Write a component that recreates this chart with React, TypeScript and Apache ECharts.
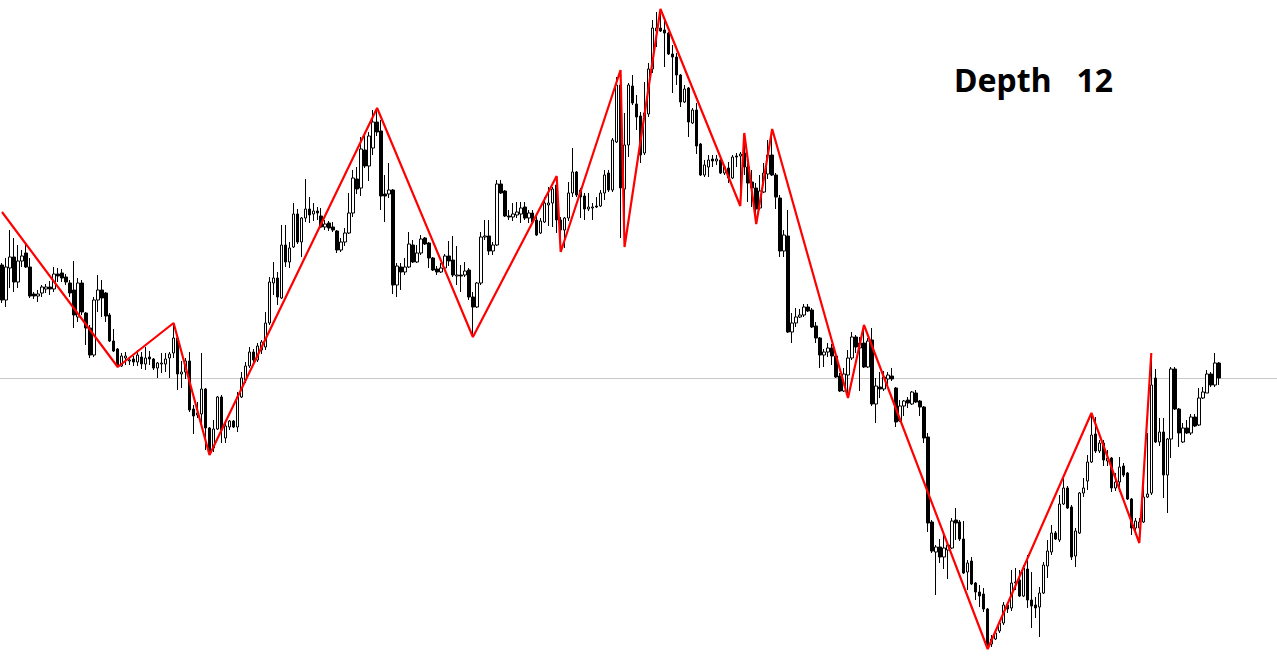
import { useEffect, useRef } from "react";
import * as echarts from "echarts";

// Each candle: [open, high, low, close]
const candles: number[][] = [
  [735, 737, 697, 700], [700, 742, 693, 733], [732, 770, 712, 743], [743, 762, 708, 718], [718, 755, 712, 739],
  [739, 750, 733, 744], [747, 757, 732, 733], [733, 742, 702, 704], [706, 708, 701, 704], [704, 710, 698, 706],
  [707, 715, 703, 713], [711, 716, 707, 713], [713, 719, 705, 711], [711, 733, 708, 726], [726, 732, 718, 724],
  [727, 731, 718, 722], [723, 726, 715, 718], [717, 720, 703, 707], [710, 739, 672, 685], [683, 722, 678, 717],
  [717, 720, 685, 688], [687, 688, 655, 672], [672, 675, 642, 645], [645, 703, 643, 700], [700, 725, 688, 710],
  [710, 720, 683, 702], [707, 708, 678, 684], [685, 687, 658, 659], [659, 671, 648, 649], [651, 652, 633, 634],
  [634, 647, 633, 644], [642, 648, 635, 644], [639, 643, 635, 640], [641, 644, 634, 638], [638, 650, 634, 645],
  [643, 648, 631, 636], [636, 653, 630, 642], [643, 649, 635, 641], [641, 642, 630, 632], [632, 638, 622, 637],
  [636, 647, 627, 637], [636, 647, 628, 641], [642, 648, 622, 646], [647, 677, 642, 662], [662, 665, 610, 626],
  [626, 639, 612, 628], [628, 642, 621, 639], [639, 648, 588, 590], [591, 595, 566, 584], [585, 598, 582, 587],
  [586, 647, 572, 611], [611, 612, 550, 572], [572, 573, 545, 548], [552, 580, 548, 571], [571, 604, 570, 603],
  [603, 605, 557, 570], [562, 578, 557, 574], [573, 580, 570, 579], [579, 580, 572, 573], [573, 608, 568, 603],
  [603, 628, 602, 622], [620, 638, 617, 634], [634, 653, 632, 648], [648, 651, 636, 640], [640, 657, 638, 654],
  [650, 660, 646, 658], [653, 688, 650, 677], [677, 723, 675, 718], [717, 738, 705, 722], [722, 728, 695, 703],
  [702, 775, 701, 755], [755, 775, 733, 738], [738, 758, 732, 752], [753, 797, 752, 786], [786, 791, 756, 758],
  [758, 783, 743, 782], [782, 821, 778, 791], [791, 803, 777, 785], [786, 797, 779, 789], [789, 793, 780, 787],
  [784, 792, 772, 773], [773, 780, 770, 776], [777, 779, 769, 772], [773, 778, 768, 770], [769, 770, 747, 750],
  [750, 762, 748, 758], [758, 772, 754, 767], [767, 807, 766, 787], [787, 830, 783, 822], [821, 833, 806, 811],
  [812, 863, 804, 851], [850, 868, 832, 834], [834, 868, 819, 864], [852, 890, 845, 878], [878, 892, 864, 868],
  [869, 880, 790, 804], [806, 825, 778, 804], [806, 837, 802, 810], [810, 811, 706, 715], [715, 737, 703, 734],
  [733, 737, 710, 728], [728, 742, 725, 733], [733, 768, 732, 756], [755, 760, 737, 738], [738, 755, 737, 747],
  [747, 765, 745, 761], [762, 763, 755, 756], [757, 758, 732, 742], [742, 743, 729, 730], [731, 734, 725, 728],
  [728, 737, 727, 732], [732, 746, 730, 744], [744, 759, 734, 739], [740, 764, 723, 725], [724, 754, 715, 725],
  [725, 735, 708, 724], [725, 738, 723, 729], [730, 732, 700, 703], [703, 708, 663, 693], [693, 718, 692, 717],
  [717, 768, 715, 763], [763, 780, 760, 764], [764, 780, 745, 749], [749, 758, 745, 755], [755, 820, 754, 816],
  [816, 820, 806, 807], [809, 810, 783, 784], [784, 790, 780, 783], [783, 797, 779, 786], [785, 798, 782, 788],
  [786, 798, 777, 792], [793, 798, 780, 782], [782, 790, 777, 787], [787, 790, 777, 778], [780, 785, 764, 765],
  [767, 782, 766, 779], [778, 803, 777, 797], [795, 813, 774, 797], [797, 813, 773, 811], [815, 824, 767, 780],
  [780, 783, 748, 770], [770, 783, 752, 782], [782, 818, 779, 807], [807, 852, 803, 828], [828, 829, 803, 805],
  [810, 812, 782, 803], [804, 807, 780, 791], [791, 807, 789, 793], [792, 797, 780, 793], [794, 803, 792, 793],
  [794, 810, 793, 807], [807, 830, 800, 825], [827, 830, 808, 810], [810, 862, 808, 860], [858, 923, 857, 915],
  [915, 930, 762, 812], [811, 887, 753, 855], [855, 917, 843, 915], [914, 925, 895, 897], [896, 905, 870, 883],
  [884, 888, 837, 845], [847, 918, 845, 887], [886, 937, 883, 931], [931, 980, 927, 972], [969, 988, 953, 972],
  [972, 991, 968, 969], [970, 980, 933, 967], [967, 968, 945, 946], [946, 955, 907, 943], [943, 947, 915, 925],
  [925, 926, 893, 898], [898, 915, 897, 911], [912, 913, 863, 878], [877, 892, 876, 890], [890, 897, 846, 854],
  [856, 857, 824, 825], [825, 840, 823, 835], [833, 845, 823, 840], [841, 845, 833, 839], [839, 845, 835, 841],
  [840, 844, 826, 827], [827, 835, 825, 833], [832, 838, 817, 822], [822, 845, 821, 843], [844, 847, 833, 843],
  [844, 848, 794, 846], [847, 867, 825, 833], [833, 837, 798, 817], [818, 830, 793, 812], [812, 817, 776, 791],
  [792, 825, 790, 809], [808, 837, 807, 827], [826, 860, 821, 845], [845, 871, 824, 825], [825, 827, 791, 803],
  [802, 805, 743, 749], [749, 770, 743, 765], [764, 790, 667, 668], [668, 687, 657, 677], [677, 692, 673, 683],
  [683, 691, 682, 685], [685, 696, 683, 693], [693, 696, 688, 689], [690, 692, 672, 673], [674, 678, 657, 662],
  [662, 663, 632, 645], [645, 651, 633, 648], [648, 657, 643, 652], [652, 656, 635, 644], [644, 645, 622, 623],
  [624, 627, 608, 609], [609, 632, 608, 626], [625, 650, 602, 642], [642, 668, 640, 663], [663, 665, 647, 653],
  [652, 663, 609, 657], [657, 675, 632, 633], [633, 662, 632, 659], [660, 672, 594, 596], [596, 622, 577, 614],
  [613, 628, 602, 611], [611, 629, 609, 623], [621, 628, 615, 625], [624, 632, 619, 621], [612, 613, 573, 578],
  [579, 600, 578, 594], [594, 600, 584, 599], [600, 603, 592, 597], [596, 609, 595, 608], [607, 610, 597, 598],
  [599, 600, 584, 593], [593, 594, 557, 562], [563, 567, 468, 477], [478, 480, 447, 449], [448, 455, 405, 453],
  [453, 461, 437, 443], [443, 469, 431, 452], [450, 457, 421, 455], [452, 482, 451, 479], [480, 492, 460, 477],
  [478, 480, 459, 461], [461, 479, 426, 427], [428, 440, 410, 437], [439, 443, 415, 416], [417, 418, 400, 408],
  [408, 415, 393, 404], [406, 412, 388, 391], [391, 392, 351, 353], [356, 365, 353, 361], [361, 371, 360, 367],
  [369, 380, 367, 377], [377, 398, 375, 395], [395, 398, 387, 391], [392, 430, 389, 417], [417, 432, 410, 418],
  [420, 430, 403, 404], [404, 435, 403, 432], [431, 445, 392, 400], [400, 428, 372, 394], [395, 403, 382, 392],
  [393, 413, 363, 407], [407, 438, 406, 435], [434, 460, 422, 449], [448, 475, 445, 467], [467, 469, 460, 461],
  [460, 505, 458, 496], [496, 525, 495, 512], [512, 514, 491, 492], [493, 495, 440, 443], [444, 472, 433, 469],
  [467, 508, 466, 507], [507, 522, 503, 512], [519, 545, 510, 538], [538, 587, 537, 565], [566, 583, 547, 549],
  [549, 560, 547, 557], [557, 560, 534, 540], [539, 550, 534, 542], [542, 543, 508, 512], [512, 527, 509, 518],
  [518, 543, 508, 533], [534, 537, 523, 525], [527, 528, 500, 501], [501, 502, 465, 472], [472, 482, 466, 479],
  [472, 482, 457, 478], [478, 515, 477, 503], [503, 567, 502, 506], [507, 647, 505, 615], [622, 631, 557, 558],
  [558, 582, 554, 568], [568, 582, 502, 525], [525, 562, 487, 561], [561, 633, 542, 631], [631, 633, 590, 591],
  [591, 592, 553, 567], [558, 577, 557, 572], [572, 580, 566, 567], [567, 586, 565, 583], [583, 586, 573, 574],
  [575, 612, 574, 602], [602, 613, 601, 608], [607, 630, 607, 626], [626, 628, 613, 615], [615, 647, 613, 637],
  [637, 638, 615, 622],
];

// ZigZag (depth 12) turning points: bar index and price
const zigzagIndex = [0, 29, 43, 52, 94, 118, 139, 140, 155, 156, 165, 185, 186, 189, 193, 212, 216, 247, 273, 285, 288];
const zigzagValue = [788, 633, 677, 545, 892, 663, 824, 748, 930, 753, 991, 794, 867, 776, 871, 602, 675, 351, 587, 457, 647];

const levelValue = 622;
const depthLabel = "Depth   12";
const emptyBarsRight = 14;
const priceMin = 336;
const priceMax = 1000;

export default function App() {
  const ref = useRef<HTMLDivElement>(null);

  useEffect(() => {
    if (!ref.current) return;
    const chart = echarts.init(ref.current, null, { renderer: "svg" });
    const total = candles.length + emptyBarsRight;
    const categories = Array.from({ length: total }, (_, i) => String(i + 1));
    const zig: (number | null)[] = Array.from({ length: total }, () => null);
    zigzagIndex.forEach((idx, k) => {
      zig[idx] = zigzagValue[k];
    });

    chart.setOption({
      animation: false,
      backgroundColor: "#ffffff",
      grid: { left: -0.5, right: -2.5, top: 0, bottom: 0 },
      xAxis: {
        type: "category",
        data: categories,
        show: false,
        boundaryGap: true,
      },
      yAxis: {
        type: "value",
        min: priceMin,
        max: priceMax,
        show: false,
      },
      series: [
        {
          type: "candlestick",
          data: candles.map(([o, h, l, c]) => [o, c, l, h]),
          barWidth: 3,
          itemStyle: {
            color: "#ffffff",
            color0: "#000000",
            borderColor: "#000000",
            borderColor0: "#000000",
            borderWidth: 1,
          },
          markLine: {
            silent: true,
            symbol: ["none", "none"],
            label: { show: false },
            lineStyle: { color: "#c8c8c8", width: 1, type: "solid" },
            data: [{ yAxis: levelValue }],
            z: 1,
          },
          z: 2,
        },
        {
          type: "line",
          data: zig,
          connectNulls: true,
          showSymbol: false,
          symbol: "none",
          lineStyle: { color: "#ff0000", width: 2.2 },
          z: 3,
        },
      ],
      graphic: [
        {
          type: "text",
          x: 954,
          y: 79,
          z: 10,
          style: {
            text: depthLabel,
            font: 'bold 32px "Noto Sans"',
            fill: "#000000",
            align: "left",
            verticalAlign: "middle",
          },
        },
      ],
    });

    return () => chart.dispose();
  }, []);

  return (
    <div
      ref={ref}
      style={{ position: "fixed", left: 0, top: 0, width: 1277, height: 664 }}
    />
  );
}
